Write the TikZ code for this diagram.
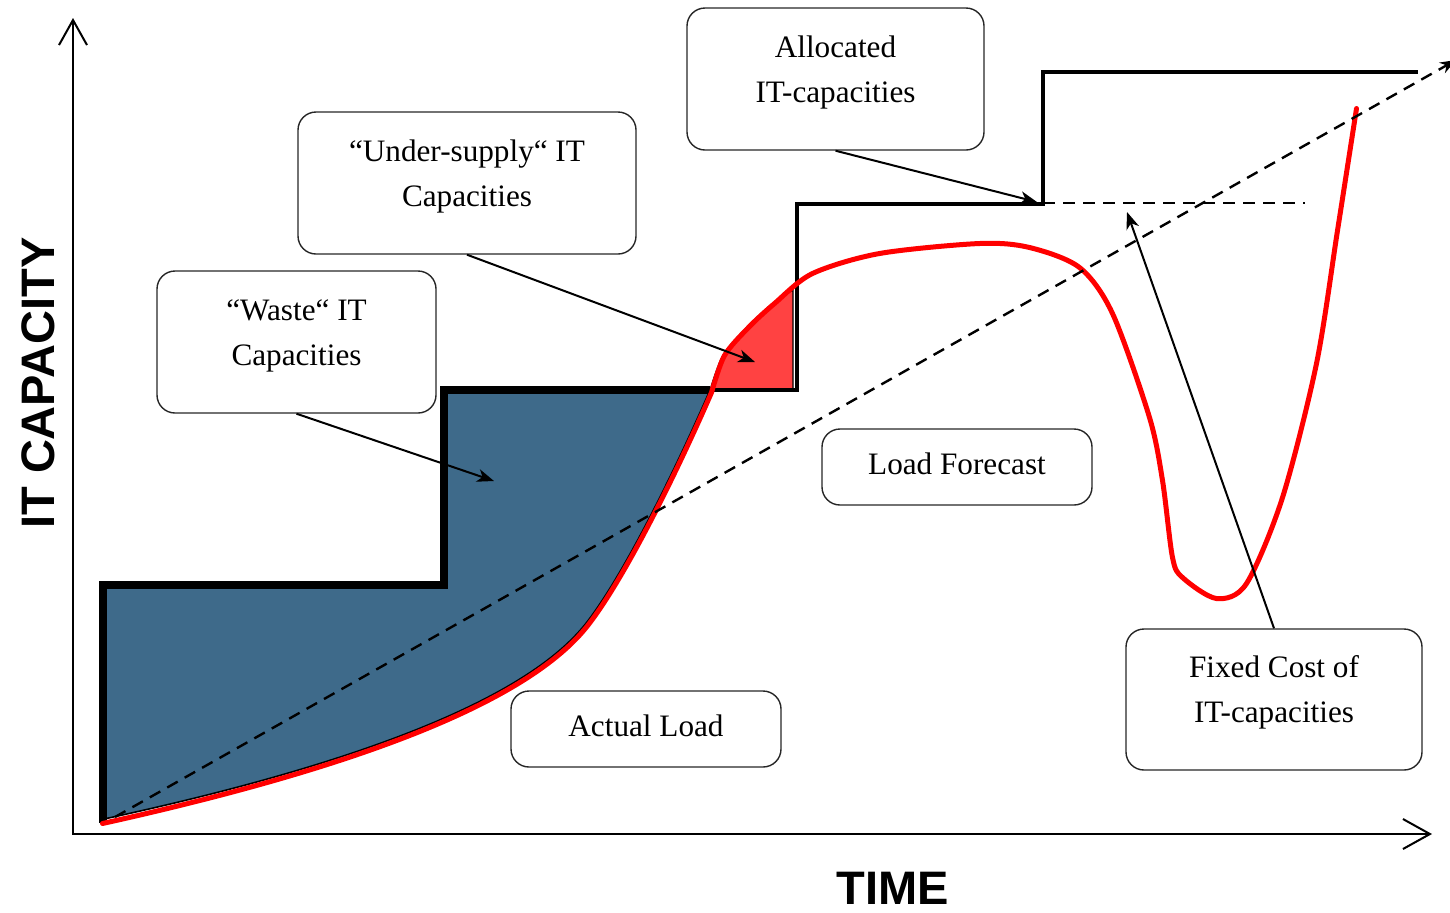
\documentclass[tikz,border=0pt]{standalone}
\usepackage{fontspec}
\setmainfont{Liberation Serif}
\setsansfont{Liberation Sans}
\usetikzlibrary{positioning, arrows.meta}

\definecolor{wasteblue}{RGB}{62,106,138}
\definecolor{underred}{RGB}{255,66,66}

\begin{document}
\begin{tikzpicture}[x=0.5pt, y=-0.5pt]
	\tikzstyle{callbox}=[draw=black!85, line width=0.7pt, rounded corners=9pt]
	\tikzstyle{calltext}=[align=center, font=\fontsize{15.6}{22.5}\selectfont]
	\tikzstyle{pointer}=[->, >={Stealth[length=8.5pt,width=6.5pt,inset=2.5pt]}, line width=1pt]
	\tikzstyle{trend}=[dash pattern=on 6pt off 4pt, line width=1.2pt]
	\tikzstyle{loadline}=[red, line width=2.5pt, line cap=round]
	\tikzstyle{axis}=[line width=1pt, {Straight Barb[length=12.5pt,width=14pt]}-{Straight Barb[length=13.5pt,width=15pt]}]
	\tikzstyle{axislabel}=[font=\sffamily\bfseries\fontsize{23.5}{28}\selectfont]

	\useasboundingbox (0,0) rectangle (1450,912);

	% waste area below the allocated steps
	\fill[wasteblue, draw=black, line width=0.8pt] (104,819) .. controls (354,765) and (527,700) .. (587,622)
		.. controls (627,570) and (680,459) .. (710,390)
		-- (444,390) -- (444,585) -- (103,585) -- cycle;
	% under-supply area
	\fill[underred, draw=black, line width=0.6pt] plot[smooth] coordinates {(710,390) (723,355) (747,327) (773,303) (793,290)} -- (793,390) -- cycle;

	% allocated capacity steps
	\draw[line width=4pt, line join=miter] (103,823) -- (103,585) -- (444,585) -- (444,390) -- (710,390);
	\draw[line width=2pt, line join=miter] (706,390) -- (797,390) -- (797,204) -- (1043,204) -- (1043,72) -- (1418,72);

	% actual load
	\draw[loadline, shift={(1.5,2.5)}] (101,821) .. controls (354,765) and (527,700) .. (587,622)
		.. controls (627,570) and (680,459) .. (710,390)
		-- plot[smooth] coordinates {(710,390) (723,353) (747,325) (773,301) (811,271) (878,251) (978,241) (1028,245) (1078,265) (1111,311) (1148,415) (1161,478) (1171,555) (1181,575) (1215,596) (1245,581) (1281,495) (1315,361) (1336,228) (1355,106)};

	% load forecast
	\coordinate (fstart) at (115,817);
	\coordinate (fend) at (1456,60);
	\draw[trend, ->, >={Stealth[length=8pt,width=6pt]}] (fstart) -- (fend);
	\coordinate (capa) at (1043,203);
	\coordinate (capb) at (1305,203);
	\draw[trend] (capa) -- (capb);

	% axes
	\coordinate (origin) at (73,834);
	\coordinate (ytop) at (73,18);
	\coordinate (xend) at (1432,834);
	\draw[axis] (ytop) -- (origin) -- (xend);
	\node[axislabel, rotate=90] (ylabel) at (38,383) {IT CAPACITY};
	\node[axislabel] (xlabel) at (893,888) {TIME};

	% callouts
	\node[callbox, minimum width=148.5pt, minimum height=71pt] (alloc) at (835.5,79) {};
	\node[calltext] (alloctext) at ([yshift=3.5pt]alloc.center) {Allocated\\IT-capacities};
	\node[callbox, minimum width=169pt, minimum height=71pt] (under) at (467,183) {};
	\node[calltext] (undertext) at ([yshift=3.5pt]under.center) {“Under-supply“ IT\\Capacities};
	\node[callbox, minimum width=139.5pt, minimum height=71pt] (waste) at (296.5,342) {};
	\node[calltext] (wastetext) at ([yshift=3pt]waste.center) {“Waste“ IT\\Capacities};
	\node[callbox, minimum width=135pt, minimum height=38pt] (forecast) at (957,467) {};
	\node[calltext] (forecasttext) at ([yshift=1.5pt]forecast.center) {Load Forecast};
	\node[callbox, minimum width=135pt, minimum height=38pt] (actual) at (646,729) {};
	\node[calltext] (actualtext) at ([yshift=1.5pt]actual.center) {Actual Load};
	\node[callbox, minimum width=148pt, minimum height=70.5pt] (fixed) at (1274,699.5) {};
	\node[calltext] (fixedtext) at ([yshift=3.5pt]fixed.center) {Fixed Cost of\\IT-capacities};

	% pointers
	\coordinate (allocend) at (1037,202);
	\coordinate (underend) at (755,362);
	\coordinate (wasteend) at (494,481);
	\coordinate (fixedend) at (1127,212);
	\draw[pointer] (alloc.south) -- (allocend);
	\draw[pointer] (under.south) -- (underend);
	\draw[pointer] (waste.south) -- (wasteend);
	\draw[pointer] (fixed.north) -- (fixedend);
\end{tikzpicture}
\end{document}
